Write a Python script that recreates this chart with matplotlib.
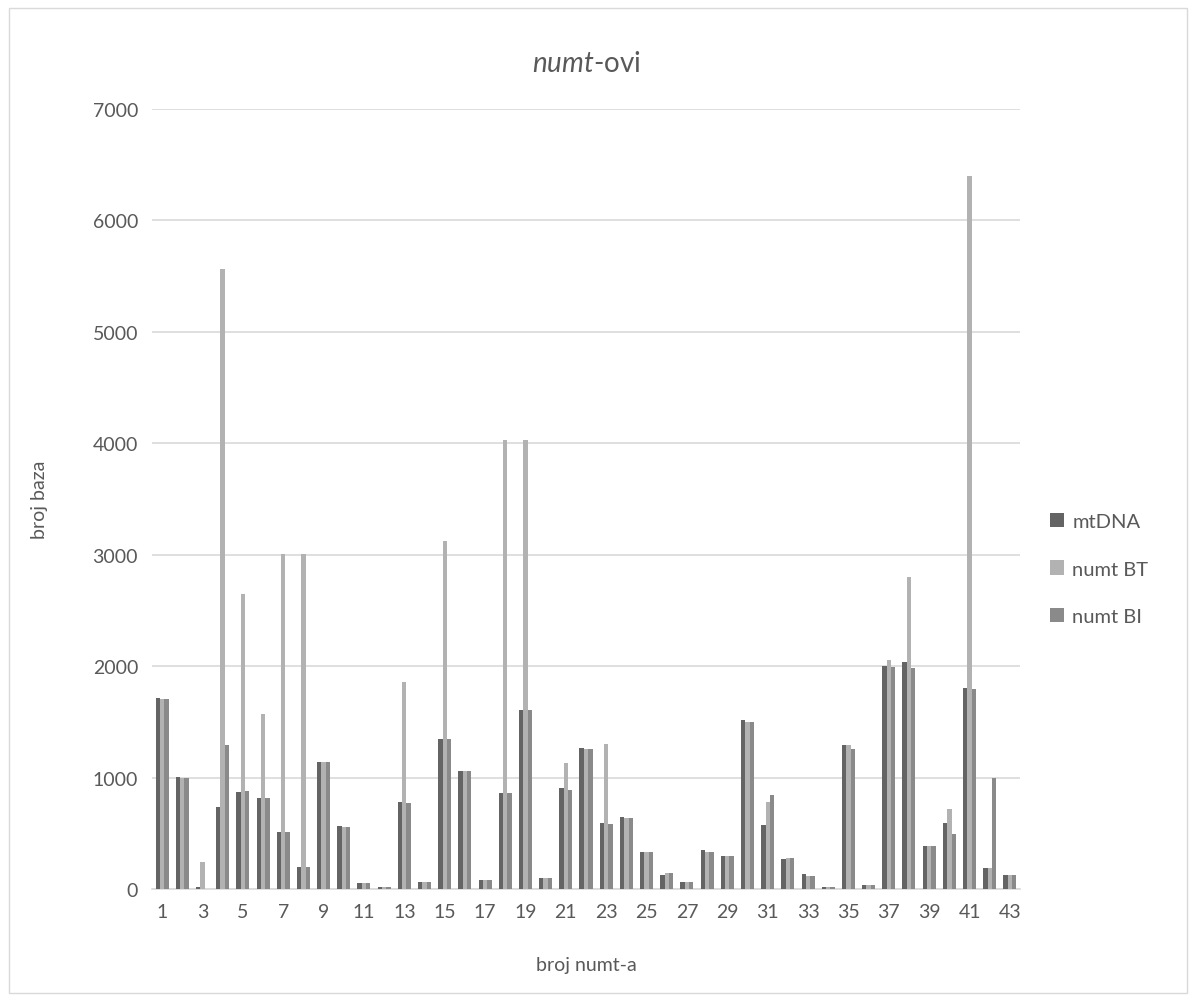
import numpy as np
import matplotlib.pyplot as plt
from matplotlib.patches import Rectangle

plt.rcParams['font.family'] = ['Lato', 'DejaVu Sans']
plt.rcParams['mathtext.fontset'] = 'custom'
plt.rcParams['mathtext.it'] = 'Lato:italic'
plt.rcParams['mathtext.rm'] = 'Lato'

kategorije = list(range(1, 44))
mtDNA = [1715, 1005, 20, 735, 875, 820, 513, 200, 1140, 567, 55, 20, 780, 66, 1345,
         1062, 85, 862, 1602, 95, 905, 1268, 592, 648, 335, 122, 62, 352, 297, 1515,
         572, 268, 133, 22, 1296, 40, 1998, 2040, 390, 592, 1806, 185, 127]
numtBT = [1705, 995, 240, 5560, 2650, 1575, 3010, 3010, 1140, 553, 55, 20, 1856, 66, 3120,
          1056, 85, 4030, 4030, 95, 1132, 1252, 1298, 634, 335, 145, 62, 328, 297, 1500,
          778, 277, 115, 22, 1296, 40, 2052, 2800, 390, 715, 6400, 185, 127]
numtBI = [1705, 995, 0, 1290, 880, 817, 513, 200, 1140, 553, 55, 20, 768, 66, 1345,
          1056, 85, 862, 1602, 100, 888, 1252, 583, 634, 335, 145, 62, 328, 297, 1500,
          846, 277, 115, 22, 1252, 40, 1990, 1980, 390, 490, 1794, 992, 127]

boje = ['#646464', '#b2b2b2', '#8a8a8a']
nazivi = ['mtDNA', 'numt BT', 'numt BI']

fig = plt.figure(figsize=(11.97, 10.03), dpi=100)
ax = fig.add_axes([152/1197, 113/1003, 868/1197, 780/1003])

x = np.array(kategorije)
w = 0.215
for i, (vals, c, n) in enumerate(zip([mtDNA, numtBT, numtBI], boje, nazivi)):
    ax.bar(x + (i - 1) * w, vals, w, color=c, label=n, zorder=3)

ax.set_xlim(0.5, 43.5)
ax.set_ylim(0, 7000)
ax.set_yticks(range(0, 7001, 1000))
ax.set_xticks(kategorije[::2])
ax.grid(axis='y', color='#d9d9d9', linewidth=1.2, zorder=0)
for s in ['top', 'right', 'left']:
    ax.spines[s].set_visible(False)
ax.spines['bottom'].set_color('#d9d9d9')
ax.spines['bottom'].set_linewidth(1.2)
ax.tick_params(axis='both', length=0, labelsize=14, labelcolor='#595959', pad=10)

ax.set_xlabel('broj numt-a', fontsize=14, color='#595959', labelpad=26)
ax.set_ylabel('broj baza', fontsize=14, color='#595959', labelpad=32)
ax.set_title(r'$\it{numt}$-ovi', fontsize=20, color='#595959', pad=27)

fig.legend(loc='center left', bbox_to_anchor=(1032/1197, 1 - 570/1003), frameon=False,
           fontsize=14.5, labelcolor='#595959', handlelength=0.7, handleheight=0.7,
           handletextpad=0.4, labelspacing=1.5)

fig.patches.append(Rectangle((9/1197, 9/1003), 1178/1197, 985/1003, transform=fig.transFigure,
                             fill=False, edgecolor='#d9d9d9', linewidth=1))

fig.savefig('out.png', dpi=100)
